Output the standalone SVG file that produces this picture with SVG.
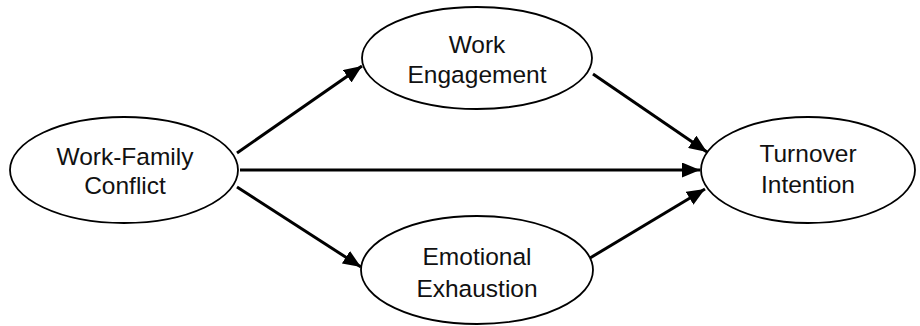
<svg xmlns="http://www.w3.org/2000/svg" width="920" height="326" viewBox="0 0 920 326">
<style>
.node ellipse{fill:#fff;stroke:#000;stroke-width:1.8}
.node text{font-family:"Liberation Sans",Arial,sans-serif;font-size:24.5px;fill:#111;text-anchor:middle}
#edges line{stroke:#000;stroke-width:3;marker-end:url(#ah)}
</style>
<defs>
<marker id="ah" markerWidth="7" markerHeight="5" refX="6" refY="2.5" orient="auto" markerUnits="strokeWidth">
<path d="M0,0 L6,2.5 L0,5 Z" fill="#000"/>
</marker>
</defs>
<rect width="920" height="326" fill="#fff"/>
<g id="edges">
<line x1="237" y1="153" x2="362" y2="66"/>
<line x1="240" y1="170" x2="700" y2="170"/>
<line x1="237" y1="187" x2="361" y2="267"/>
<line x1="593" y1="74" x2="707" y2="152"/>
<line x1="590" y1="258" x2="705" y2="189"/>
</g>
<g id="wfc" class="node">
<ellipse cx="124" cy="170" rx="114" ry="53"/>
<text x="125" y="165">Work-Family</text>
<text x="125" y="194">Conflict</text>
</g>
<g id="we" class="node">
<ellipse cx="477" cy="58" rx="115" ry="51"/>
<text x="477" y="53">Work</text>
<text x="477" y="83">Engagement</text>
</g>
<g id="ee" class="node">
<ellipse cx="477" cy="270" rx="116" ry="54"/>
<text x="477" y="265">Emotional</text>
<text x="477" y="297">Exhaustion</text>
</g>
<g id="ti" class="node">
<ellipse cx="808" cy="170" rx="107" ry="53"/>
<text x="808" y="162">Turnover</text>
<text x="808" y="193">Intention</text>
</g>
</svg>
